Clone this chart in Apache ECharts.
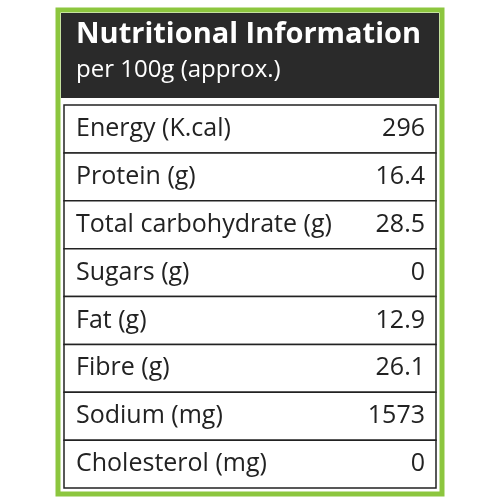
<!DOCTYPE html>
<html><head><meta charset="utf-8">
<script src="https://cdn.jsdelivr.net/npm/echarts@6/dist/echarts.min.js"></script>
<style>html,body{margin:0;padding:0;background:#fff}#c{width:500px;height:500px}</style>
</head><body><div id="c"></div>
<script>
const nutrients = ['Energy (K.cal)','Protein (g)','Total carbohydrate (g)','Sugars (g)','Fat (g)','Fibre (g)','Sodium (mg)','Cholesterol (mg)'];
const values = ['296','16.4','28.5','0','12.9','26.1','1573','0'];
const title = 'Nutritional Information';
const subtitle = 'per 100g (approx.)';

const chart = echarts.init(document.getElementById('c'));
chart.setOption({
  animation:false,
  grid:{left:64,right:64,top:105,bottom:12},
  xAxis:{type:'value',min:0,max:1,show:false},
  yAxis:{type:'category',data:nutrients,inverse:true,show:false},
  graphic:[
    {type:'rect',shape:{x:58,y:10,width:384,height:484},style:{fill:'#fff',stroke:'#8cc63e',lineWidth:5},z:-10},
    {type:'rect',shape:{x:61,y:13,width:378,height:85},style:{fill:'#2a2a2a'},z:-5},
    {type:'text',left:76,top:20,style:{text:title,fill:'#fff',font:'bold 29px "Open Sans", sans-serif'}},
    {type:'text',left:76,top:58,style:{text:subtitle,fill:'#fff',font:'24px "Open Sans", sans-serif',width:208,overflow:'none'}}
  ],
  series:[{
    type:'custom',
    data:nutrients.map((n,i)=>[0,i]),
    renderItem:function(params,api){
      const i=params.dataIndex;
      const p0=api.coord([0,i]);
      const p1=api.coord([1,i]);
      const h=api.size([0,1])[1];
      const top=p0[1]-h/2;
      return {type:'group',children:[
        {type:'rect',shape:{x:p0[0],y:top,width:p1[0]-p0[0],height:h},style:{fill:'#fff',stroke:'#222',lineWidth:1.5}},
        {type:'text',x:76,y:p0[1],style:{text:nutrients[i],fill:'#222',font:'25px "Open Sans", sans-serif',textVerticalAlign:'middle'}},
        {type:'text',x:425,y:p0[1],style:{text:values[i],fill:'#222',font:'25px "Open Sans", sans-serif',textAlign:'right',textVerticalAlign:'middle'}}
      ]};
    }
  }]
});
</script></body></html>
